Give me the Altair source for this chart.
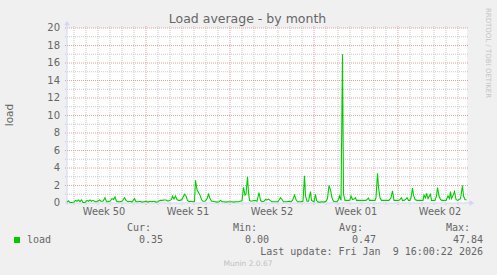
import altair as alt
import pandas as pd

# ---- data (hours since left edge of the 33.3-day window, load average) ----
hours = [0, 3, 6, 10, 14, 17, 20, 23, 26, 29, 32, 36, 40, 43, 46, 49, 52, 56, 60, 65,
         68, 72, 76, 79, 82, 86, 90, 93, 96, 99, 102, 106, 110, 115, 118, 122, 126, 130, 135, 138,
         142, 146, 150, 154, 158, 162, 166, 170, 174, 178, 182, 186, 190, 194, 198, 202, 206, 209, 211, 214,
         217, 220, 223, 226, 230, 235, 238, 241, 244, 248, 252, 255, 257, 260, 263, 266, 269, 272, 276, 280,
         283, 286, 289, 292, 296, 300, 304, 307, 310, 314, 318, 322, 326, 330, 334, 338, 342, 346, 350, 353,
         356, 358, 361, 363, 365, 368, 372, 376, 380, 384, 387, 390, 394, 397, 400, 403, 406, 410, 414, 418,
         422, 427, 430, 433, 436, 440, 444, 448, 451, 455, 458, 461, 464, 468, 472, 475, 477, 480, 483, 487,
         489, 492, 494, 497, 499, 502, 506, 510, 514, 518, 521, 524, 527, 530, 533, 536, 540, 543, 545, 548,
         551, 553, 556, 560, 564, 566, 568, 571, 574, 577, 579, 582, 586, 590, 594, 598, 603, 605, 608, 612,
         616, 618, 621, 623, 626, 629, 632, 636, 640, 644, 648, 651, 654, 658, 662, 665, 669, 671, 674, 677,
         680, 683, 686, 688, 691, 693, 696, 700, 704, 708, 712, 714, 717, 719, 722, 724, 727, 729, 732, 736,
         739, 741, 744, 747, 750, 754, 758, 762, 765, 767, 769, 771, 775, 778, 781, 784, 787, 791, 793, 796,
         799]
load = [0.10, 0.25, 0.05, 0.05, 0.10, 0.30, 0.20, 0.35, 0.15, 0.35, 0.05, 0.05, 0.30, 0.20, 0.35, 0.20, 0.30, 0.15, 0.15, 0.35,
        0.20, 0.20, 0.60, 0.15, 0.15, 0.20, 0.50, 0.40, 0.70, 0.20, 0.15, 0.15, 0.20, 0.60, 0.30, 0.15, 0.20, 0.10, 0.50, 0.15,
        0.15, 0.20, 0.10, 0.15, 0.20, 0.10, 0.20, 0.15, 0.20, 0.10, 0.15, 0.30, 0.30, 0.35, 0.35, 0.20, 0.30, 0.40, 0.80, 0.45,
        0.80, 0.40, 0.30, 0.30, 0.40, 1.00, 0.80, 0.30, 0.15, 0.20, 0.15, 0.20, 2.60, 1.50, 1.20, 0.90, 0.40, 0.20, 0.20, 0.50,
        1.00, 0.50, 0.20, 0.20, 0.15, 0.10, 0.15, 0.30, 0.15, 0.15, 0.10, 0.15, 0.15, 0.15, 0.10, 0.15, 0.15, 0.20, 0.25, 1.80,
        0.90, 1.00, 3.00, 1.20, 0.30, 0.20, 0.25, 0.30, 0.20, 1.20, 0.30, 0.15, 0.20, 0.40, 0.35, 0.45, 0.30, 0.15, 0.15, 0.15,
        0.15, 0.60, 0.40, 0.15, 0.15, 0.15, 0.20, 0.15, 0.30, 0.90, 0.40, 0.15, 0.15, 0.15, 0.20, 3.10, 0.80, 0.20, 0.20, 1.30,
        0.30, 0.20, 0.15, 1.00, 0.30, 0.10, 0.10, 0.15, 0.10, 0.20, 0.50, 2.00, 1.50, 0.60, 0.20, 0.15, 0.15, 0.40, 0.80, 0.30,
        17.0, 1.00, 0.30, 0.30, 0.30, 0.35, 0.80, 0.40, 0.45, 0.60, 0.30, 0.30, 0.30, 0.30, 0.30, 0.30, 0.55, 0.30, 0.30, 0.30,
        0.30, 0.60, 3.40, 1.80, 0.60, 0.30, 0.30, 0.30, 0.30, 0.30, 0.60, 1.40, 0.30, 0.30, 0.30, 0.35, 0.60, 0.30, 0.30, 0.40,
        0.60, 0.30, 0.30, 0.60, 1.70, 0.90, 0.40, 0.30, 0.30, 0.30, 0.30, 0.90, 0.60, 1.10, 0.50, 0.70, 1.00, 0.30, 0.30, 0.30,
        0.80, 1.75, 0.80, 0.40, 0.30, 0.30, 0.30, 0.80, 0.50, 1.30, 0.50, 0.70, 1.30, 0.40, 0.30, 0.40, 0.50, 2.00, 0.80, 0.40,
        0.35]

week_labels = ["Week 50", "Week 51", "Week 52", "Week 01", "Week 02"]
week_label_hours = [74, 242, 410, 578, 746]
week_boundary_hours = [158, 326, 494, 662]
day_hours = [14, 38, 62, 86, 110, 134, 182, 206, 230, 254, 278, 302, 350, 374, 398, 422,
             446, 470, 518, 542, 566, 590, 614, 638, 686, 710, 734, 758, 782]
y_major = [2, 4, 6, 8, 10, 12, 14, 16, 18, 20]
y_minor = [1, 3, 5, 7, 9, 11, 13, 15, 17, 19]
y_labels = [0, 2, 4, 6, 8, 10, 12, 14, 16, 18, 20]

series_name = "load"
stat_names = ["Cur:", "Min:", "Avg:", "Max:"]
stat_values = ["0.35", "0.00", "0.47", "47.84"]
last_update = "Last update: Fri Jan\u00a0\u00a09 16:00:22 2026"

# ---- styling ----
GREEN = "#00CC00"
AXIS = "#CFD6F8"
FONT = "#666666"
SANS = "DejaVu Sans"
MONO = "DejaVu Sans Mono"
XS = alt.Scale(domain=[0, 800], nice=False, zero=False)
YS = alt.Scale(domain=[0, 20], nice=False)
one = pd.DataFrame({"k": [0]})


def hrules(vals, color):
    return alt.Chart(pd.DataFrame({"v": vals})).mark_rule(
        color=color, strokeDash=[1, 1], strokeWidth=1
    ).encode(y=alt.Y("v:Q", scale=YS, axis=None), x=alt.value(-2), x2=alt.value(402))


def vrules(vals, color):
    return alt.Chart(pd.DataFrame({"v": vals})).mark_rule(
        color=color, strokeDash=[1, 1], strokeWidth=1
    ).encode(x=alt.X("v:Q", scale=XS, axis=None), y=alt.value(-2), y2=alt.value(177))


def txt(s, x, y, size, color=FONT, font=SANS, align="center", angle=0):
    kw = dict(text=s, font=font, fontSize=size, color=color, align=align, baseline="middle")
    if angle:
        kw["angle"] = angle
    return alt.Chart(one).mark_text(**kw).encode(x=alt.value(x), y=alt.value(y))


layers = [
    hrules(y_minor, "#CACACA"),
    vrules(day_hours, "#CACACA"),
    hrules(y_major, "#E3A0A0"),
    vrules(week_boundary_hours, "#E3A0A0"),
    # axes lines
    alt.Chart(one).mark_rule(color=AXIS, strokeWidth=1).encode(
        x=alt.value(-2), x2=alt.value(404), y=alt.value(175)),
    alt.Chart(one).mark_rule(color=AXIS, strokeWidth=1).encode(
        x=alt.value(0), y=alt.value(177), y2=alt.value(-4)),
    alt.Chart(one).mark_point(shape="triangle-right", filled=True, color=AXIS, size=30, opacity=1).encode(
        x=alt.value(405), y=alt.value(175)),
    alt.Chart(one).mark_point(shape="triangle-up", filled=True, color=AXIS, size=30, opacity=1).encode(
        x=alt.value(0), y=alt.value(-5)),
    # y labels
    alt.Chart(pd.DataFrame({"v": y_labels})).mark_text(
        font=SANS, fontSize=10, color=FONT, align="right", baseline="middle"
    ).encode(y=alt.Y("v:Q", scale=YS, axis=None), x=alt.value(-7), text="v:Q"),
    # week labels
    alt.Chart(pd.DataFrame({"h": week_label_hours, "w": week_labels})).mark_text(
        font=SANS, fontSize=9.8, color=FONT, align="center", baseline="middle"
    ).encode(x=alt.X("h:Q", scale=XS, axis=None), y=alt.value(184), text="w:N"),
    # data line
    alt.Chart(pd.DataFrame({"hour": hours, "load": load})).mark_line(
        color=GREEN, strokeWidth=1.1, interpolate="linear"
    ).encode(x=alt.X("hour:Q", scale=XS, axis=None), y=alt.Y("load:Q", scale=YS, axis=None)),
    # titles
    txt("Load average - by month", 180.5, -9, 12.5),
    txt("load", -57, 87, 10.5, angle=270),
    txt("RRDTOOL / TOBI OETIKER", 421, 25, 7, color="#C4C4C4", angle=90),
    # legend
    alt.Chart(one).mark_square(color=GREEN, size=36, opacity=1).encode(x=alt.value(-50), y=alt.value(212)),
    txt(series_name, -40, 211.5, 10, font=MONO, align="left"),
]

stat_right = [84, 190, 296, 403]
val_right = [96, 202, 309, 416]
for name, val, xr, xv in zip(stat_names, stat_values, stat_right, val_right):
    layers.append(txt(name, xr, 199.5, 10, font=MONO, align="right"))
    layers.append(txt(val, xv, 211.5, 10, font=MONO, align="right"))
layers.append(txt(last_update, 416, 223.5, 10, font=MONO, align="right"))
layers.append(txt("Munin 2.0.67", 181, 236, 7.5, color="#C0C0C0"))

chart = alt.layer(*layers).properties(
    width=400, height=175,
    padding={"left": 67, "top": 28, "right": 30, "bottom": 72},
    autosize=alt.AutoSizeParams(type="none"),
).configure(background="#F0F0F0").configure_view(fill="#FFFFFF", stroke=None)

chart.save("out.html", embed_options={"renderer": "svg", "actions": False})
